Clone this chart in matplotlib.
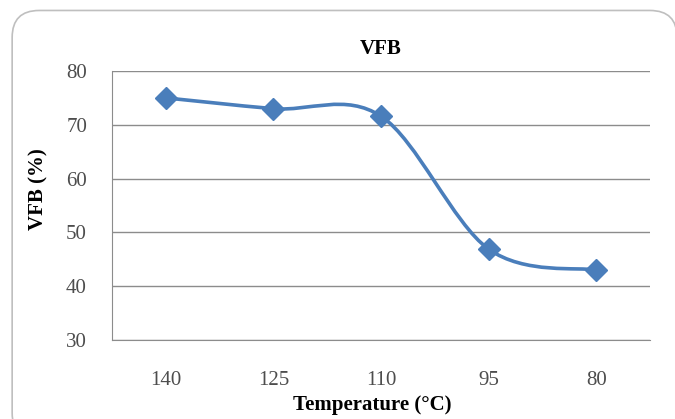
import matplotlib.pyplot as plt
import numpy as np
from matplotlib.path import Path
from matplotlib.patches import PathPatch, FancyBboxPatch

# data
temps = ["140", "125", "110", "95", "80"]
vfb = [75.0, 73.0, 71.6, 46.9, 43.0]

blue = "#4a7ebb"
grid_col = "#8c8c8c"

plt.rcParams['font.family'] = ['Liberation Serif', 'DejaVu Serif']

fig = plt.figure(figsize=(6.75, 4.19), dpi=100)

# rounded outer frame like an excel chart
frame = FancyBboxPatch((0.018, -0.05), 0.985, 1.025, boxstyle="round,pad=0,rounding_size=0.04",
                       transform=fig.transFigure, facecolor="white", edgecolor="#bfbfbf", lw=1.2,
                       mutation_aspect=675 / 419, zorder=-10)
fig.patches.append(frame)

ax = fig.add_axes([112 / 675, 1 - 340 / 419, 538 / 675, 269 / 419])
ax.set_facecolor("none")

x = np.arange(len(temps))
y = np.array(vfb)

# excel-style smoothed line (cardinal spline through the points as bezier segments)
pts = np.column_stack([x, y])
ext = np.vstack([pts[0], pts, pts[-1]])
verts = [tuple(pts[0])]
codes = [Path.MOVETO]
for i in range(len(pts) - 1):
    p0, p1, p2, p3 = ext[i], ext[i + 1], ext[i + 2], ext[i + 3]
    c1 = p1 + (p2 - p0) / 6
    c2 = p2 - (p3 - p1) / 6
    verts += [tuple(c1), tuple(c2), tuple(p2)]
    codes += [Path.CURVE4] * 3
ax.add_patch(PathPatch(Path(verts, codes), facecolor="none", edgecolor=blue, lw=2.6,
                       capstyle="round", zorder=3))
ax.plot(x, y, linestyle="none", marker="D", markersize=11, color=blue, zorder=4)

ax.set_xlim(-0.5, len(temps) - 0.5)
ax.set_ylim(30, 80)
ax.set_yticks([30, 40, 50, 60, 70, 80])
ax.set_xticks(x)
ax.set_xticklabels(temps)
ax.yaxis.grid(True, color=grid_col, lw=1.0)
ax.set_axisbelow(True)
for s in ["top", "right"]:
    ax.spines[s].set_visible(False)
ax.spines["left"].set_color(grid_col)
ax.spines["bottom"].set_color(grid_col)
ax.tick_params(length=0, labelsize=15, labelcolor="#4d4d4d")
ax.tick_params(axis="y", pad=18)
ax.tick_params(axis="x", pad=22)

ax.set_title("VFB", fontsize=15, fontweight="bold", pad=12)
ax.set_ylabel("VFB (%)", fontsize=15, fontweight="bold")
ax.yaxis.set_label_coords(-0.118, 0.56)
ax.set_xlabel("Temperature (°C)", fontsize=15, fontweight="bold")
ax.xaxis.set_label_coords(0.483, -0.205)

fig.savefig("out.png", dpi=100)
